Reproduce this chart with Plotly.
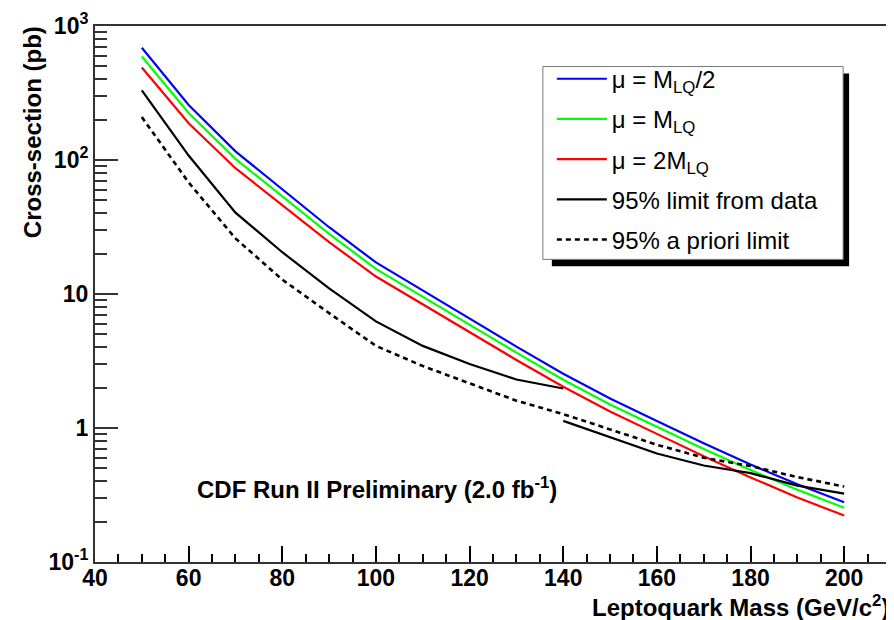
import plotly.graph_objects as go

# ---------------- data ----------------
mass = [50, 60, 70, 80, 90, 100, 110, 120, 130, 140, 150, 160, 170, 180, 190, 200]

xsec_mu_half = [689, 257, 116, 60, 31.5, 17.2, 10.6, 6.5, 4.05, 2.54, 1.66, 1.13, 0.77, 0.534, 0.38, 0.279]
xsec_mu_one = [592, 224, 102, 53.2, 28.1, 15.4, 9.5, 5.85, 3.65, 2.29, 1.5, 1.023, 0.698, 0.485, 0.346, 0.254]
xsec_mu_two = [490, 188, 86.9, 45.8, 24.4, 13.5, 8.36, 5.16, 3.22, 2.03, 1.33, 0.904, 0.615, 0.428, 0.303, 0.222]

mass_low = [50, 60, 70, 80, 90, 100, 110, 120, 130, 140]
limit_data_low = [331, 108, 40.5, 20.5, 11.0, 6.25, 4.1, 3.0, 2.3, 1.97]
mass_high = [140, 150, 160, 170, 180, 190, 200]
limit_data_high = [1.13, 0.85, 0.645, 0.525, 0.46, 0.372, 0.324]

limit_apriori = [209, 68, 26, 12.8, 7.2, 4.1, 2.9, 2.15, 1.6, 1.27, 0.98, 0.75, 0.6, 0.52, 0.43, 0.366]

y_tickvals = [0.1, 1, 10, 100, 1000]
y_ticktext = ["10<sup>-1</sup>", "1", "10", "10<sup>2</sup>", "10<sup>3</sup>"]
y_minor_tickvals = [m * d for d in (0.1, 1, 10, 100) for m in (2, 3, 4, 5, 6, 7, 8, 9)]

FONT = "Liberation Sans, Arial, Helvetica, sans-serif"

# ---------------- figure ----------------
fig = go.Figure()

fig.add_trace(go.Scatter(x=mass, y=xsec_mu_half, mode="lines", name="μ = M<sub>LQ</sub>/2",
                         line=dict(color="#0000ff", width=2.2), legendgroup="a"))
fig.add_trace(go.Scatter(x=mass, y=xsec_mu_one, mode="lines", name="μ = M<sub>LQ</sub>",
                         line=dict(color="#00ff00", width=2.2), legendgroup="b"))
fig.add_trace(go.Scatter(x=mass, y=xsec_mu_two, mode="lines", name="μ = 2M<sub>LQ</sub>",
                         line=dict(color="#ff0000", width=2.2), legendgroup="c"))
fig.add_trace(go.Scatter(x=mass_low, y=limit_data_low, mode="lines", name="95% limit from data",
                         line=dict(color="black", width=2.2), legendgroup="d"))
fig.add_trace(go.Scatter(x=mass_high, y=limit_data_high, mode="lines", name="95% limit from data",
                         line=dict(color="black", width=2.2), legendgroup="d", showlegend=False))
fig.add_trace(go.Scatter(x=mass, y=limit_apriori, mode="lines", name="95% a priori limit",
                         line=dict(color="black", width=2.6, dash="5px,4px"), legendgroup="e"))

# The page body has an 8px margin; figure is sized so the plot area sits at
# page pixels x 95..893, y 20..562.
W, H = 886, 612
L, R, T, B = 87, 1, 12, 58
pw, ph = W - L - R, H - T - B
OFF = 8


def px_x(p):
    return (p - OFF - L) / pw


def px_y(p):
    return (OFF + H - B - p) / ph


fig.update_layout(
    width=W, height=H,
    margin=dict(l=L, r=R, t=T, b=B),
    paper_bgcolor="white", plot_bgcolor="white",
    font=dict(family=FONT, color="black"),
    showlegend=True,
    legend=dict(
        x=px_x(553), y=px_y(51), xanchor="left", yanchor="top",
        bgcolor="rgba(0,0,0,0)", borderwidth=0,
        font=dict(family=FONT, size=24, color="black"),
        tracegroupgap=6, itemwidth=50,
    ),
    xaxis=dict(
        range=[40, 210], tick0=40, dtick=20, ticks="inside", ticklen=16, tickwidth=1.5,
        tickcolor="black", showgrid=False, zeroline=False,
        showline=True, linecolor="#333333", linewidth=2, mirror=True,
        tickfont=dict(family=FONT, size=23, color="black", weight="bold"),
        ticklabelstandoff=-6,
        minor=dict(ticks="inside", ticklen=8, dtick=5, tickcolor="black", tickwidth=1.5, showgrid=False),
    ),
    yaxis=dict(
        type="log", range=[-1, 3], tickmode="array", tickvals=y_tickvals, ticktext=y_ticktext,
        ticks="inside", ticklen=23, tickwidth=1.5, tickcolor="#333333",
        showgrid=False, zeroline=False, ticklabeloverflow="allow",
        showline=True, linecolor="#333333", linewidth=2, mirror=True,
        tickfont=dict(family=FONT, size=23, color="black", weight="bold"),
        minor=dict(tickmode="array", tickvals=y_minor_tickvals, ticks="inside", ticklen=12,
                   tickcolor="#333333", tickwidth=1.5, showgrid=False),
    ),
    shapes=[
        dict(type="rect", xref="paper", yref="paper",
             x0=px_x(553), x1=px_x(851), y0=px_y(263), y1=px_y(68),
             fillcolor="black", line=dict(width=0), layer="above"),
        dict(type="rect", xref="paper", yref="paper",
             x0=px_x(544), x1=px_x(845), y0=px_y(256), y1=px_y(61),
             fillcolor="white", line=dict(color="#777777", width=1), layer="above"),
    ],
    annotations=[
        dict(text="<b>Leptoquark Mass (GeV/c<sup>2</sup>)</b>", xref="paper", yref="paper",
             x=1, y=px_y(606), xanchor="right", yanchor="middle", showarrow=False,
             font=dict(family=FONT, size=24, color="black")),
        dict(text="<b>Cross-section (pb)</b>", xref="paper", yref="paper",
             x=px_x(32), y=px_y(18), xanchor="center", yanchor="top", textangle=-90,
             showarrow=False, font=dict(family=FONT, size=24, color="black")),
        dict(text="<b>CDF Run II Preliminary (2.0 fb<sup>-1</sup>)</b>", xref="paper", yref="paper",
             x=px_x(195), y=px_y(487), xanchor="left", yanchor="middle", showarrow=False,
             font=dict(family=FONT, size=24, color="black")),
    ],
)

fig.write_html("out.html")
